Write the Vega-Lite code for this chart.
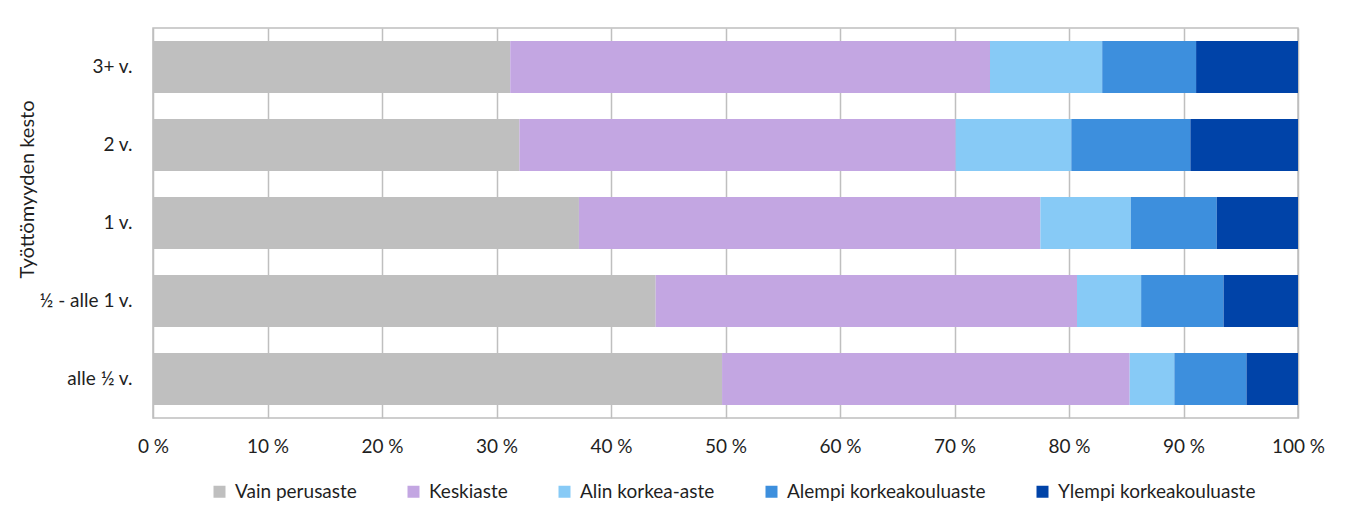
{
  "$schema": "https://vega.github.io/schema/vega-lite/v6.json",
  "autosize": {"type": "none"},
  "width": 1145,
  "height": 390,
  "padding": {"left": 153, "top": 28, "right": 56, "bottom": 92},
  "background": "white",
  "config": {
    "font": "Lato",
    "view": {"stroke": "#BFBFBF", "strokeWidth": 1.5},
    "axis": {"labelFont": "Lato", "titleFont": "Lato", "labelColor": "#1F1F1F", "titleColor": "#1F1F1F"},
    "legend": {"labelFont": "Lato"}
  },
  "data": {
    "values": [
      {"kesto": "3+ v.", "koulutus": "Vain perusaste", "taso": 1, "osuus": 31.2},
      {"kesto": "3+ v.", "koulutus": "Keskiaste", "taso": 2, "osuus": 41.9},
      {"kesto": "3+ v.", "koulutus": "Alin korkea-aste", "taso": 3, "osuus": 9.8},
      {"kesto": "3+ v.", "koulutus": "Alempi korkeakouluaste", "taso": 4, "osuus": 8.2},
      {"kesto": "3+ v.", "koulutus": "Ylempi korkeakouluaste", "taso": 5, "osuus": 8.9},
      {"kesto": "2 v.", "koulutus": "Vain perusaste", "taso": 1, "osuus": 32.0},
      {"kesto": "2 v.", "koulutus": "Keskiaste", "taso": 2, "osuus": 38.1},
      {"kesto": "2 v.", "koulutus": "Alin korkea-aste", "taso": 3, "osuus": 10.1},
      {"kesto": "2 v.", "koulutus": "Alempi korkeakouluaste", "taso": 4, "osuus": 10.4},
      {"kesto": "2 v.", "koulutus": "Ylempi korkeakouluaste", "taso": 5, "osuus": 9.4},
      {"kesto": "1 v.", "koulutus": "Vain perusaste", "taso": 1, "osuus": 37.2},
      {"kesto": "1 v.", "koulutus": "Keskiaste", "taso": 2, "osuus": 40.3},
      {"kesto": "1 v.", "koulutus": "Alin korkea-aste", "taso": 3, "osuus": 7.9},
      {"kesto": "1 v.", "koulutus": "Alempi korkeakouluaste", "taso": 4, "osuus": 7.5},
      {"kesto": "1 v.", "koulutus": "Ylempi korkeakouluaste", "taso": 5, "osuus": 7.1},
      {"kesto": "½ - alle 1 v.", "koulutus": "Vain perusaste", "taso": 1, "osuus": 43.9},
      {"kesto": "½ - alle 1 v.", "koulutus": "Keskiaste", "taso": 2, "osuus": 36.8},
      {"kesto": "½ - alle 1 v.", "koulutus": "Alin korkea-aste", "taso": 3, "osuus": 5.6},
      {"kesto": "½ - alle 1 v.", "koulutus": "Alempi korkeakouluaste", "taso": 4, "osuus": 7.2},
      {"kesto": "½ - alle 1 v.", "koulutus": "Ylempi korkeakouluaste", "taso": 5, "osuus": 6.5},
      {"kesto": "alle ½ v.", "koulutus": "Vain perusaste", "taso": 1, "osuus": 49.7},
      {"kesto": "alle ½ v.", "koulutus": "Keskiaste", "taso": 2, "osuus": 35.6},
      {"kesto": "alle ½ v.", "koulutus": "Alin korkea-aste", "taso": 3, "osuus": 3.9},
      {"kesto": "alle ½ v.", "koulutus": "Alempi korkeakouluaste", "taso": 4, "osuus": 6.3},
      {"kesto": "alle ½ v.", "koulutus": "Ylempi korkeakouluaste", "taso": 5, "osuus": 4.5}
    ]
  },
  "mark": {"type": "bar"},
  "encoding": {
    "y": {
      "field": "kesto",
      "type": "nominal",
      "sort": ["3+ v.", "2 v.", "1 v.", "½ - alle 1 v.", "alle ½ v."],
      "scale": {"paddingInner": 0.333, "paddingOuter": 0.167},
      "axis": {
        "title": "Työttömyyden kesto",
        "titleFontSize": 20,
        "titleFontWeight": "normal",
        "titleAngle": -90,
        "titleX": -126,
        "titleY": 161,
        "titleAlign": "center",
        "titleBaseline": "middle",
        "labelFontSize": 19,
        "labelPadding": 21,
        "ticks": false,
        "domain": false,
        "grid": false
      }
    },
    "x": {
      "field": "osuus",
      "type": "quantitative",
      "stack": "zero",
      "scale": {"domain": [0, 100], "nice": false, "zero": true},
      "axis": {
        "title": null,
        "values": [0, 10, 20, 30, 40, 50, 60, 70, 80, 90, 100],
        "labelExpr": "datum.value + ' %'",
        "labelFontSize": 19,
        "labelPadding": 19,
        "labelFlush": false,
        "ticks": false,
        "domain": false,
        "grid": true,
        "gridColor": "#BFBFBF",
        "gridWidth": 1.5
      }
    },
    "order": {"field": "taso", "type": "quantitative", "sort": "ascending"},
    "color": {
      "field": "koulutus",
      "type": "nominal",
      "sort": ["Vain perusaste", "Keskiaste", "Alin korkea-aste", "Alempi korkeakouluaste", "Ylempi korkeakouluaste"],
      "scale": {
        "domain": ["Vain perusaste", "Keskiaste", "Alin korkea-aste", "Alempi korkeakouluaste", "Ylempi korkeakouluaste"],
        "range": ["#BFBFBF", "#C3A6E2", "#87CAF6", "#3D8FDD", "#0043A8"]
      },
      "legend": {
        "title": null,
        "orient": "none",
        "legendX": 57,
        "legendY": 454,
        "direction": "horizontal",
        "columns": 5,
        "columnPadding": 47,
        "padding": 0,
        "symbolType": "square",
        "symbolSize": 144,
        "symbolStrokeWidth": 0,
        "labelOffset": 6,
        "labelFontSize": 19,
        "labelLimit": 0,
        "labelColor": "#1F1F1F"
      }
    }
  }
}
